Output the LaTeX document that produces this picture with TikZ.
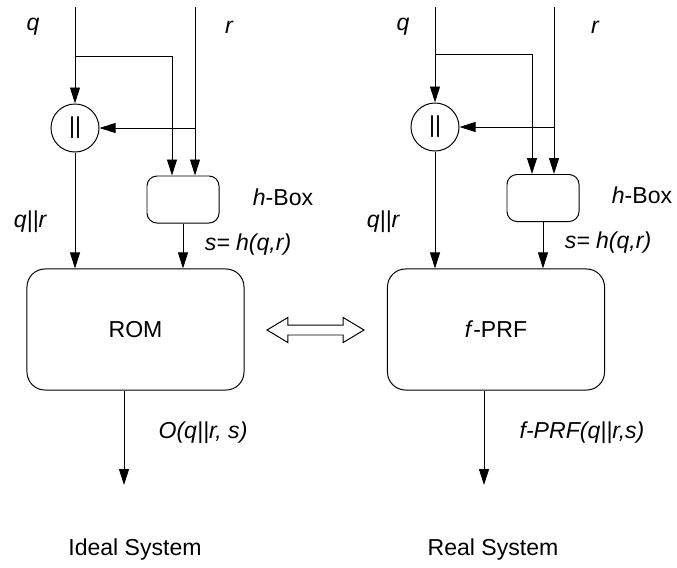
\documentclass[tikz,border=0pt]{standalone}
\usepackage{fontspec}
\setmainfont{Liberation Sans}
\usetikzlibrary{arrows.meta,shapes.arrows}

\begin{document}
\begin{tikzpicture}[
        x=0.025cm, y=-0.025cm,
        line width=0.7pt,
        every node/.style={
            font=\fontsize{16.4}{19.7}\selectfont
        },
        lbl/.style={
            font=\fontsize{16.4}{19.7}\selectfont\itshape
        },
        concat/.style={
            circle,
            draw,
            minimum size=1.2cm,
            inner sep=0pt
        },
        hashbox/.style={
            rectangle,
            draw,
            rounded corners=0.25cm,
            minimum width=1.8cm,
            minimum height=1.175cm,
            inner sep=0pt
        },
        sysblock/.style={
            rectangle,
            draw,
            rounded corners=0.45cm,
            minimum width=5.425cm,
            minimum height=3.025cm,
            inner sep=0pt
        },
        equiv/.style={
            double arrow,
            draw,
            fill=white,
            inner xsep=0pt,
            inner ysep=0.1125cm,
            minimum height=2.425cm,
            double arrow head extend=0.1875cm,
            double arrow tip angle=62
        },
        arrow/.style={-{Triangle[length=0.4cm,width=0.25cm]}}
    ]

        \useasboundingbox (0,0) rectangle (677,567);

        % ideal system
        \coordinate (qin1) at (75,7);
        \coordinate (rin1) at (195,7);
        \coordinate (qb1) at (75,56);
        \coordinate (rb1) at (195,128);
        \coordinate (out1) at (124,485);

        \node[lbl] (q1) at (33,27) {q};
        \node[lbl] (r1) at (229,27) {r};
        \node[concat] (cat1) at (75,128) {||};
        \node[hashbox] (hbox1) at (183,199.5) {};
        \node (hname1) at (283,197) {\textit{h}-Box};
        \node[lbl] (qr1) at (30,222) {q||r};
        \node[lbl] (s1) at (248,245) {s= h(q,r)};
        \node[sysblock] (rom) at (135.5,329.5) {ROM};
        \node[lbl] (o1) at (203,433) {O(q||r, s)};
        \node (ideal) at (135,550) {Ideal System};

        \draw[arrow] (qin1) -- (cat1.north);
        \draw[arrow] (qb1) -| ([xshift=-0.275cm]hbox1.north);
        \draw[arrow] (rin1) -- (rin1 |- hbox1.north);
        \draw[arrow] (rb1) -- (cat1.east);
        \draw[arrow] (cat1.south) -- (cat1.south |- rom.north);
        \draw[arrow] (hbox1.south) -- (hbox1.south |- rom.north);
        \draw[arrow] (out1 |- rom.south) -- (out1);

        % real system
        \coordinate (qin2) at (435,7);
        \coordinate (rin2) at (554,7);
        \coordinate (qb2) at (435,54);
        \coordinate (rb2) at (554,127);
        \coordinate (out2) at (484,485);

        \node[lbl] (q2) at (403,27) {q};
        \node[lbl] (r2) at (595,27) {r};
        \node[concat] (cat2) at (435,127) {||};
        \node[hashbox] (hbox2) at (543,198) {};
        \node (hname2) at (642,195) {\textit{h}-Box};
        \node[lbl] (qr2) at (383,222) {q||r};
        \node[lbl] (s2) at (608,243) {s= h(q,r)};
        \node[sysblock] (prf) at (496,329.5) {\textit{f}-PRF};
        \node[lbl] (o2) at (582,433) {f-PRF(q||r,s)};
        \node (real) at (493,550) {Real System};

        \draw[arrow] (qin2) -- (cat2.north);
        \draw[arrow] (qb2) -| ([xshift=-0.275cm]hbox2.north);
        \draw[arrow] (rin2) -- (rin2 |- hbox2.north);
        \draw[arrow] (rb2) -- (cat2.east);
        \draw[arrow] (cat2.south) -- (cat2.south |- prf.north);
        \draw[arrow] (hbox2.south) -- (hbox2.south |- prf.north);
        \draw[arrow] (out2 |- prf.south) -- (out2);

        % equivalence
        \node[equiv] (eq) at (315.5,330) {};

    \end{tikzpicture}
\end{document}
